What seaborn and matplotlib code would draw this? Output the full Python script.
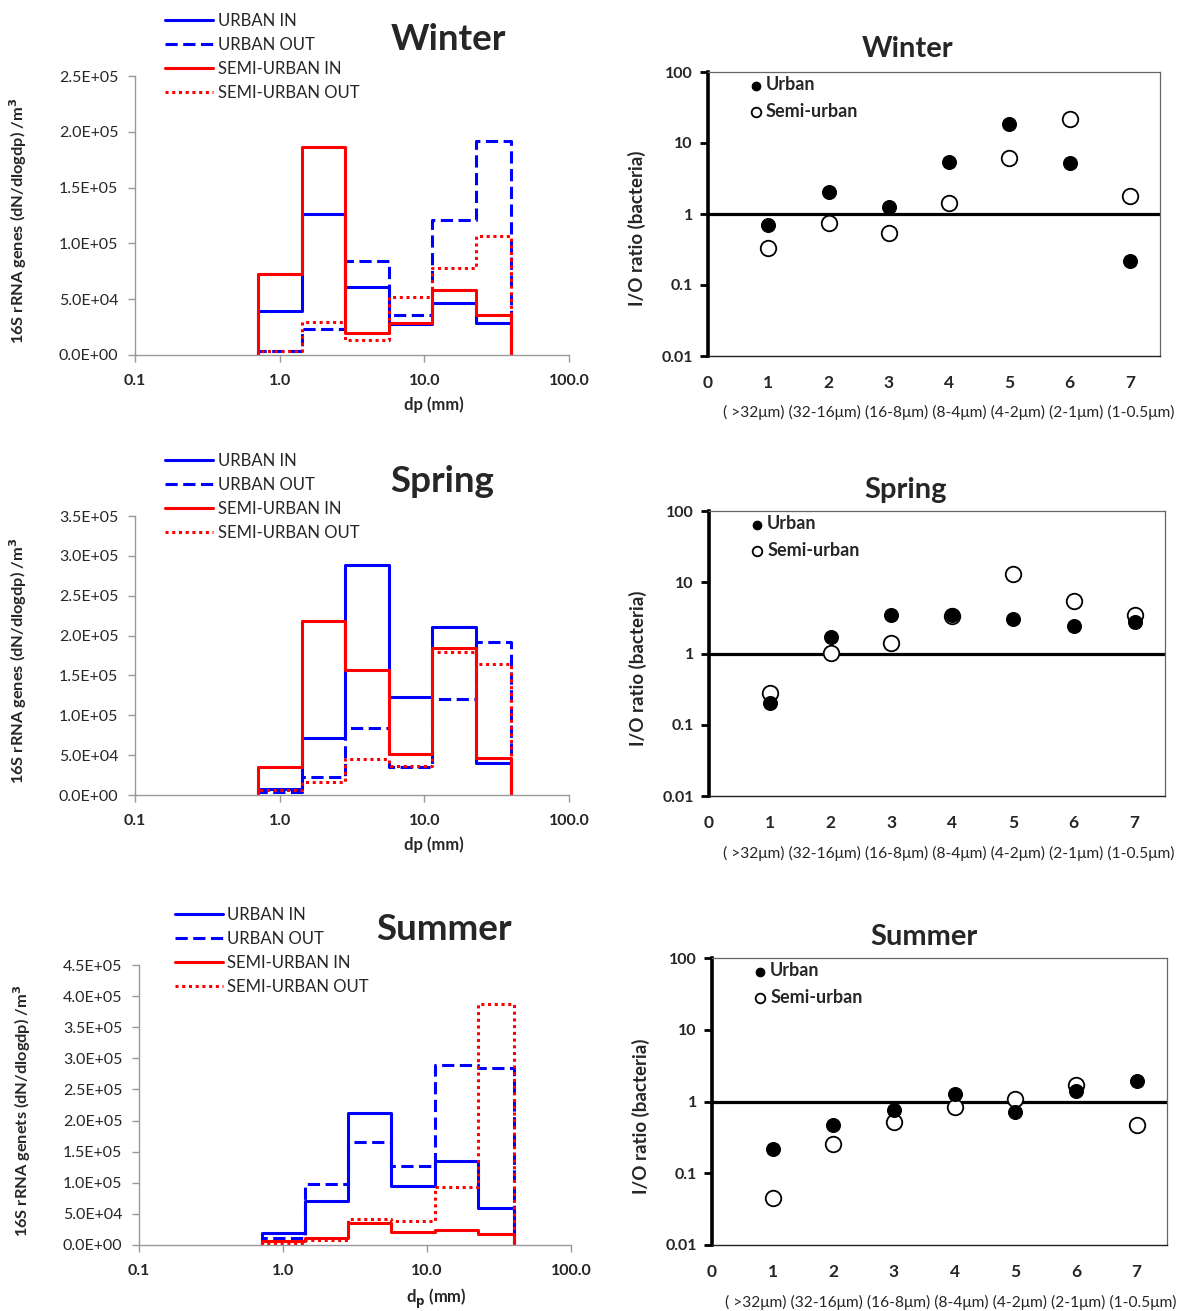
import numpy as np
import pandas as pd
import matplotlib
matplotlib.use("Agg")
import matplotlib.pyplot as plt
import seaborn as sns
from matplotlib.lines import Line2D
from matplotlib.ticker import FixedLocator, NullLocator, FixedFormatter

sns.set_style("ticks")
plt.rcParams['font.family'] = ['Lato', 'DejaVu Sans']

# ---------------- data ----------------
bin_edges = [0.71, 1.42, 2.83, 5.66, 11.3, 22.6, 40.0]
series_names = ["URBAN IN", "URBAN OUT", "SEMI-URBAN IN", "SEMI-URBAN OUT"]

winter_urban_in = [3.9e4, 1.265e5, 6.1e4, 2.8e4, 4.65e4, 2.85e4]
winter_urban_out = [3.6e3, 2.3e4, 8.4e4, 3.55e4, 1.21e5, 1.915e5]
winter_semi_in = [7.28e4, 1.86e5, 1.97e4, 2.89e4, 5.85e4, 3.6e4]
winter_semi_out = [3.6e3, 3.0e4, 1.3e4, 5.2e4, 7.8e4, 1.065e5]

spring_urban_in = [7.9e3, 7.15e4, 2.89e5, 1.225e5, 2.108e5, 4.0e4]
spring_urban_out = [3.3e3, 2.26e4, 8.4e4, 3.47e4, 1.21e5, 1.92e5]
spring_semi_in = [3.5e4, 2.187e5, 1.564e5, 5.14e4, 1.848e5, 4.6e4]
spring_semi_out = [6.7e3, 1.63e4, 4.56e4, 3.6e4, 1.8e5, 1.64e5]

summer_urban_in = [1.88e4, 7.1e4, 2.115e5, 9.5e4, 1.357e5, 5.97e4]
summer_urban_out = [1.08e4, 9.85e4, 1.65e5, 1.27e5, 2.896e5, 2.85e5]
summer_semi_in = [6.5e3, 1.08e4, 3.6e4, 2.1e4, 2.37e4, 1.72e4]
summer_semi_out = [2.7e3, 8.0e3, 4.15e4, 3.9e4, 9.26e4, 3.87e5]

stages = [1, 2, 3, 4, 5, 6, 7]
stage_sizes = ["( >32\u03bcm)", "(32-16\u03bcm)", "(16-8\u03bcm)", "(8-4\u03bcm)",
               "(4-2\u03bcm)", "(2-1\u03bcm)", "(1-0.5\u03bcm)"]

winter_urban_io = [0.70, 2.06, 1.25, 5.43, 18.3, 5.25, 0.221]
winter_semi_io = [0.333, 0.74, 0.547, 1.43, 6.05, 21.8, 1.81]
spring_urban_io = [0.20, 1.70, 3.47, 3.43, 3.08, 2.43, 2.73]
spring_semi_io = [0.276, 1.01, 1.40, 3.40, 13.2, 5.4, 3.47]
summer_urban_io = [0.215, 0.467, 0.757, 1.27, 0.724, 1.38, 1.95]
summer_semi_io = [0.0445, 0.253, 0.525, 0.834, 1.08, 1.71, 0.467]

# ---------------- styles ----------------
BLUE = "#0000FF"
RED = "#FF0000"
LW = 2.2
series_styles = [
    dict(color=BLUE, linestyle="-"),
    dict(color=BLUE, linestyle=(0, (4, 1.8))),
    dict(color=RED, linestyle="-"),
    dict(color=RED, linestyle=(0, (1, 1.2))),
]

W, H = 1178, 1311
fig = plt.figure(figsize=(W / 100, H / 100), dpi=100)


def fx(px):
    return px / W


def fy(px):
    return 1 - px / H


def step_frame(values):
    xs = [bin_edges[0]] + bin_edges[:-1] + [bin_edges[-1]]
    ys = [0.0] + list(values) + [0.0]
    return pd.DataFrame({"dp": xs, "conc": ys})


def sci_label(v):
    if v == 0:
        return "0.0E+00"
    e = int(np.floor(np.log10(v)))
    return "%.1fE+%02d" % (v / 10 ** e, e)


def size_panel(rect, series, ymax, title, title_xy, legend_xy, ylabel, xlabel):
    ax = fig.add_axes(rect)
    for vals, st in zip(series, series_styles):
        sns.lineplot(data=step_frame(vals), x="dp", y="conc", estimator=None,
                     sort=False, drawstyle="steps-post", linewidth=LW,
                     dash_capstyle="butt", ax=ax, **st)
    ax.set_xscale("log")
    ax.set_xlim(0.1, 100)
    ax.set_ylim(0, ymax)
    ax.xaxis.set_major_locator(FixedLocator([0.1, 1, 10, 100]))
    ax.xaxis.set_major_formatter(FixedFormatter(["0.1", "1.0", "10.0", "100.0"]))
    ax.xaxis.set_minor_locator(NullLocator())
    yt = np.arange(0, ymax + 1, 5e4)
    ax.set_yticks(yt)
    ax.set_yticklabels([sci_label(v) for v in yt])
    for lab in ax.get_xticklabels():
        lab.set_fontweight("bold")
    ax.tick_params(axis="y", length=5, width=1, color="#999999", pad=7, labelsize=11.5)
    ax.tick_params(axis="x", length=5, width=1, color="#999999", pad=9, labelsize=11.5)
    for s in ["top", "right"]:
        ax.spines[s].set_visible(False)
    for s in ["left", "bottom"]:
        ax.spines[s].set_color("#999999")
        ax.spines[s].set_linewidth(1)
    ax.set_xlabel(xlabel, fontsize=12, fontweight="bold")
    ax.xaxis.set_label_coords(0.689, -0.15)
    ax.set_ylabel(ylabel, fontsize=11.8, fontweight="bold")
    ax.yaxis.set_label_coords(-0.245, 0.48)
    handles = [Line2D([0], [0], linewidth=LW, **st) for st in series_styles]
    ax.legend(handles, series_names, loc="upper left",
              bbox_to_anchor=legend_xy, bbox_transform=fig.transFigure,
              frameon=False, fontsize=12, handlelength=2.9, handletextpad=0.25,
              labelspacing=0.48, borderpad=0, borderaxespad=0)
    fig.text(fx(title_xy[0]), fy(title_xy[1]), title, fontsize=26.5,
             fontweight="bold", ha="center", va="center")
    return ax


def ratio_panel(rect, urban, semi, title, title_xy, sizes_left):
    ax = fig.add_axes(rect)
    ax.axhline(1, color="black", linewidth=2.3, zorder=1)
    sns.scatterplot(x=stages, y=semi, marker="o", s=125, facecolor="white",
                    edgecolor="black", linewidth=1.3, label="Semi-urban",
                    ax=ax, zorder=3)
    sns.scatterplot(x=stages, y=urban, marker="o", s=100, color="black",
                    edgecolor="black", linewidth=0.8, label="Urban",
                    ax=ax, zorder=4)
    ax.set_yscale("log")
    ax.set_ylim(0.01, 100)
    ax.set_xlim(0, 7.5)
    ax.yaxis.set_major_locator(FixedLocator([0.01, 0.1, 1, 10, 100]))
    ax.yaxis.set_major_formatter(FixedFormatter(["0.01", "0.1", "1", "10", "100"]))
    ax.yaxis.set_minor_locator(NullLocator())
    ax.set_xticks(range(8))
    ax.set_xticklabels([str(i) for i in range(8)])
    for lab in ax.get_xticklabels() + ax.get_yticklabels():
        lab.set_fontweight("bold")
    ax.tick_params(axis="y", length=6, width=2, color="black", pad=5, labelsize=11.5)
    ax.tick_params(axis="x", length=0, pad=14, labelsize=12.5)
    ax.spines["left"].set_linewidth(2.6)
    ax.spines["left"].set_color("black")
    ax.spines["bottom"].set_linewidth(1.0)
    ax.spines["bottom"].set_color("#222222")
    for s in ["top", "right"]:
        ax.spines[s].set_linewidth(0.9)
        ax.spines[s].set_color("#666666")
    ax.set_ylabel("I/O ratio (bacteria)", fontsize=13.5, fontweight="bold")
    ax.yaxis.set_label_coords(-0.137, 0.45)
    h, l = ax.get_legend_handles_labels()
    order = [l.index("Urban"), l.index("Semi-urban")]
    ax.legend([h[i] for i in order], [l[i] for i in order], loc="upper left",
              bbox_to_anchor=(0.094, 0.985), frameon=False, markerscale=0.62,
              prop={"weight": "bold", "size": 13}, handlelength=0.6,
              handletextpad=0.25, labelspacing=0.55, borderpad=0, borderaxespad=0)
    ax.text(fx(sizes_left), -0.2, " ".join(stage_sizes),
            transform=matplotlib.transforms.blended_transform_factory(fig.transFigure, ax.transAxes),
            ha="left", va="center", fontsize=11.2)
    fig.text(fx(title_xy[0]), fy(title_xy[1]), title, fontsize=21,
             fontweight="bold", ha="center", va="center")
    return ax


ylab_genes = "16S rRNA genes (dN/dlogdp) /m$\\mathbf{^3}$"
ylab_genets = "16S rRNA genets (dN/dlogdp) /m$\\mathbf{^3}$"

size_panel([fx(135), fy(355), fx(569 - 135), (355 - 76) / H],
           [winter_urban_in, winter_urban_out, winter_semi_in, winter_semi_out],
           2.5e5, "Winter", (448, 40), (fx(165), fy(13)), ylab_genes, "dp (mm)")
size_panel([fx(135), fy(795), fx(569 - 135), (795 - 516) / H],
           [spring_urban_in, spring_urban_out, spring_semi_in, spring_semi_out],
           3.5e5, "Spring", (442, 481), (fx(165), fy(453)), ylab_genes, "dp (mm)")
size_panel([fx(139), fy(1245), fx(571 - 139), (1245 - 965) / H],
           [summer_urban_in, summer_urban_out, summer_semi_in, summer_semi_out],
           4.5e5, "Summer", (444, 930), (fx(175), fy(907)), ylab_genets,
           "d$\\mathbf{_p}$ (mm)")

ratio_panel([fx(708), fy(356), fx(1160 - 708), (356 - 72) / H],
            winter_urban_io, winter_semi_io, "Winter", (908, 49), 723)
ratio_panel([fx(709), fy(796), fx(1165 - 709), (796 - 511) / H],
            spring_urban_io, spring_semi_io, "Spring", (906, 490), 723)
ratio_panel([fx(712), fy(1245), fx(1167 - 712), (1245 - 958) / H],
            summer_urban_io, summer_semi_io, "Summer", (924, 937), 725)

fig.savefig("out.png", dpi=100)
